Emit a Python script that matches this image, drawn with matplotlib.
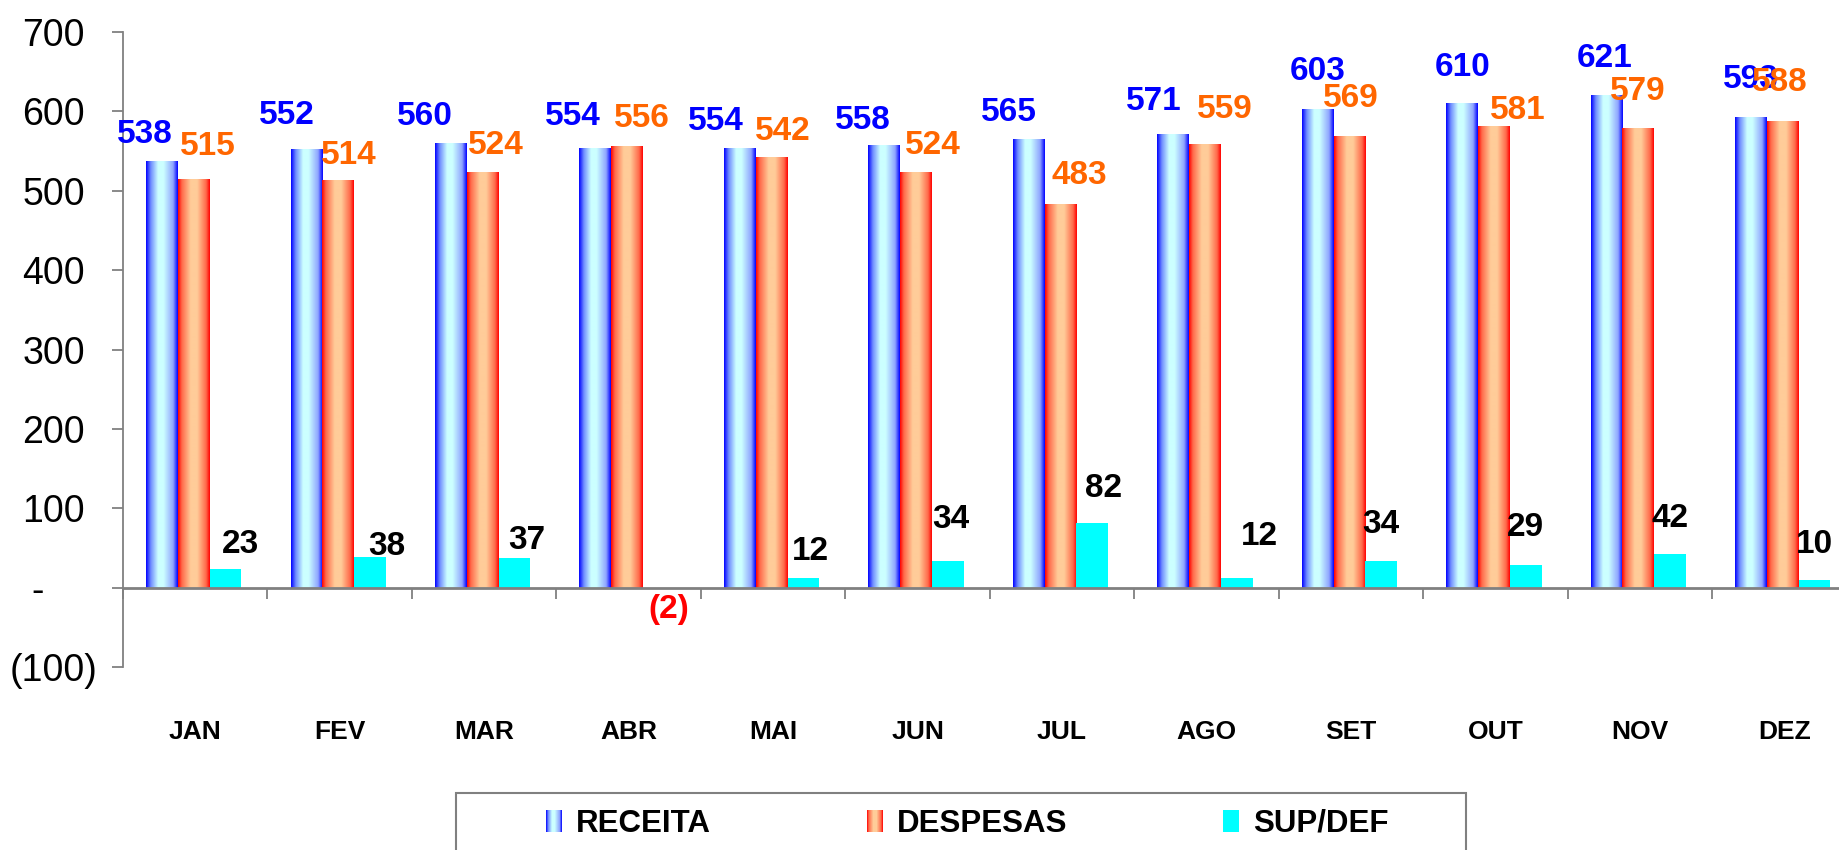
import numpy as np
import matplotlib.pyplot as plt
from matplotlib.colors import LinearSegmentedColormap
from matplotlib.patches import Patch, Rectangle
from matplotlib.legend_handler import HandlerBase

months = ['JAN', 'FEV', 'MAR', 'ABR', 'MAI', 'JUN', 'JUL', 'AGO', 'SET', 'OUT', 'NOV', 'DEZ']
receita = [538, 552, 560, 554, 554, 558, 565, 571, 603, 610, 621, 593]
despesas = [515, 514, 524, 556, 542, 524, 483, 559, 569, 581, 579, 588]
supdef = [23, 38, 37, -2, 12, 34, 82, 12, 34, 29, 42, 10]
yticks = [-100, 0, 100, 200, 300, 400, 500, 600, 700]
ytick_labels = ['(100)', '-   ', '100', '200', '300', '400', '500', '600', '700']

# label nudges in pixels (dx, dy) from the top of each bar, as placed in the original
rec_off = [(-17, 26), (-20, 34), (-26, 27), (-23, 31), (-24, 26), (-21, 24),
           (-20, 27), (-19, 33), (0, 37), (0, 36), (-2, 36), (0, 37)]
desp_off = [(14, 32), (11, 24), (13, 26), (15, 28), (11, 26), (17, 26),
            (19, 29), (20, 34), (1, 37), (24, 16), (-1, 37), (-3, 38)]
sup_off = [(15, 25), (17, 11), (12, 18), (10, -20), (7, 27), (3, 41),
           (11, 34), (23, 42), (0, 36), (0, 37), (0, 36), (0, 35)]

plt.rcParams['font.family'] = ['Liberation Sans', 'DejaVu Sans']

blue_cmap = LinearSegmentedColormap.from_list('rec', [
    (0, '#0000FF'), (0.15, '#6f8cff'), (0.38, '#ccffff'), (0.55, '#ccffff'),
    (0.85, '#8fa5ff'), (1, '#0000FF')])
red_cmap = LinearSegmentedColormap.from_list('desp', [
    (0, '#FF0000'), (0.12, '#ff6a4a'), (0.4, '#ffcc99'), (0.6, '#ffcc99'),
    (0.88, '#ff6a4a'), (1, '#FF0000')])


class GradHandler(HandlerBase):
    def __init__(self, cmap):
        super().__init__()
        self.cmap = cmap

    def create_artists(self, legend, orig_handle, xdescent, ydescent, width, height, fontsize, trans):
        n = 16
        arts = []
        for k in range(n):
            r = Rectangle((-xdescent + k * width / n, -ydescent), width / n, height,
                          facecolor=self.cmap((k + 0.5) / n), edgecolor='none', transform=trans)
            arts.append(r)
        return arts


fig = plt.figure(figsize=(18.39, 8.5), dpi=100)
ax = fig.add_axes([123 / 1839, 1 - 667 / 850, 1733.5 / 1839, 635 / 850])

x = np.arange(len(months))
w = 0.22
grad = np.linspace(0, 1, 256).reshape(1, -1)


def gradient_bars(bars, cmap):
    for b in bars:
        x0, y0 = b.get_x(), b.get_y()
        im = ax.imshow(grad, cmap=cmap, aspect='auto', interpolation='bilinear', zorder=2,
                       extent=[x0, x0 + b.get_width(), y0, y0 + b.get_height()])
        im.set_clip_path(b)


b1 = ax.bar(x - w - 0.01, receita, w, color='none', edgecolor='none', zorder=2)
gradient_bars(b1, blue_cmap)
b2 = ax.bar(x - 0.01, despesas, w, color='none', edgecolor='none', zorder=2)
gradient_bars(b2, red_cmap)
b3 = ax.bar(x + w - 0.01, supdef, w, color='#00FFFF', edgecolor='none', zorder=2)

ax.set_xlim(-0.5, 11.5)
ax.set_ylim(-100, 700)

for i in range(len(months)):
    ax.annotate(str(receita[i]), (b1[i].get_x() + w / 2, receita[i]), xytext=rec_off[i],
                textcoords='offset pixels', ha='center', va='center',
                color='#0000FF', fontsize=24, fontweight='bold', zorder=4)
    ax.annotate(str(despesas[i]), (b2[i].get_x() + w / 2, despesas[i]), xytext=desp_off[i],
                textcoords='offset pixels', ha='center', va='center',
                color='#FF6600', fontsize=24, fontweight='bold', zorder=4)
    v = supdef[i]
    txt = '(%d)' % -v if v < 0 else str(v)
    ax.annotate(txt, (b3[i].get_x() + w / 2, v), xytext=sup_off[i],
                textcoords='offset pixels', ha='center', va='center',
                color='#FF0000' if v < 0 else 'black', fontsize=24, fontweight='bold', zorder=4)

for s in ['top', 'right']:
    ax.spines[s].set_visible(False)
ax.spines['left'].set_color('#808080')
ax.spines['left'].set_linewidth(1.3)
ax.spines['bottom'].set_position(('data', 0))
ax.spines['bottom'].set_color('#808080')
ax.spines['bottom'].set_linewidth(2)

ax.set_xticks(x)
ax.set_xticklabels(months, fontsize=19, fontweight='bold')
ax.set_xticks(np.arange(-0.5, 12, 1), minor=True)
ax.tick_params(axis='x', which='major', length=0, pad=95)
ax.tick_params(axis='x', which='minor', length=8, width=1.3, color='#808080', direction='out')

ax.set_yticks(yticks)
ax.set_yticklabels(ytick_labels, fontsize=27)
ax.tick_params(axis='y', length=8, width=1.3, color='#808080', pad=42)
for t in ax.get_yticklabels():
    t.set_ha('center')

# legend box (runs off the bottom edge like the original)
fig.add_artist(Rectangle((456 / 1839, -0.05), (1466 - 456) / 1839, 1 - 793 / 850 + 0.05,
                         transform=fig.transFigure, fill=False, edgecolor='#808080', lw=1.5))

h_rec = Patch(label='RECEITA')
h_desp = Patch(label='DESPESAS')
h_sup = Patch(facecolor='#00FFFF', label='SUP/DEF')
fig.legend(handles=[h_rec, h_desp, h_sup],
           handler_map={h_rec: GradHandler(blue_cmap), h_desp: GradHandler(red_cmap)},
           loc='center left', bbox_to_anchor=(546 / 1839, 1 - 824 / 850), ncol=3,
           frameon=False, prop={'weight': 'bold', 'size': 22.5},
           handlelength=0.5, handleheight=0.7, handletextpad=0.45,
           columnspacing=5.0, borderpad=0, borderaxespad=0)

fig.savefig('out.png', dpi=100)
